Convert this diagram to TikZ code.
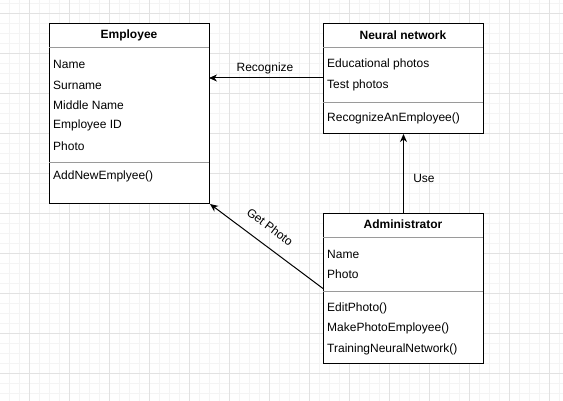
\documentclass[tikz,border=0pt]{standalone}
\usepackage{fontspec}
\setmainfont{Liberation Sans}
\usetikzlibrary{arrows.meta}
\definecolor{gridminor}{HTML}{F4F4F4}
\definecolor{gridmajor}{HTML}{E2E2E2}
\definecolor{sepgray}{HTML}{9A9A9A}
\begin{document}
\begin{tikzpicture}[x=1pt,y=-1pt,
  box/.style={draw, line width=1pt, rectangle, minimum width=160pt, inner sep=0pt, anchor=north west, fill=white},
  ttl/.style={font=\fontsize{12}{14}\selectfont\bfseries, anchor=center, inner sep=0pt},
  attr/.style={font=\fontsize{12}{14}\selectfont, anchor=west, inner sep=0pt},
  sepline/.style={draw=sepgray, line width=0.7pt},
  conn/.style={line width=1pt, -{Stealth[length=8pt,width=7pt,inset=2.5pt]}},
  lab/.style={font=\fontsize{12}{14}\selectfont, inner sep=0pt},
  minorline/.style={draw=gridminor, line width=0.7pt},
  majorline/.style={draw=gridmajor, line width=0.7pt}]
\useasboundingbox (0,0) rectangle (563,401);
\fill[white] (0,0) rectangle (563,401);
% grid
\foreach \x in {-1,9,...,561} \draw[minorline] (\x,0) -- (\x,401);
\foreach \y in {3,13,...,401} \draw[minorline] (0,\y) -- (563,\y);
\foreach \x in {29,69,...,561} \draw[majorline] (\x,0) -- (\x,401);
\foreach \y in {13,53,...,401} \draw[majorline] (0,\y) -- (563,\y);

% Employee
\node[box, minimum height=180pt] (emp) at (49,23) {};
\draw[sepline] (49,47) -- (209,47);
\draw[sepline] (49,162) -- (209,162);
\node[ttl] (empT) at (129,35) {Employee};
\node[attr] (empA1) at (53,64) {Name};
\node[attr] (empA2) at (53,85) {Surname};
\node[attr] (empA3) at (53,105) {Middle Name};
\node[attr] (empA4) at (53,125) {Employee ID};
\node[attr] (empA5) at (53,146) {Photo};
\node[attr] (empM1) at (53,176) {AddNewEmplyee()};

% Neural network
\node[box, minimum height=110pt] (nn) at (323,23) {};
\draw[sepline] (323,47) -- (483,47);
\draw[sepline] (323,102) -- (483,102);
\node[ttl] (nnT) at (403,35) {Neural network};
\node[attr] (nnA1) at (327,64) {Educational photos};
\node[attr] (nnA2) at (327,85) {Test photos};
\node[attr] (nnM1) at (327,118) {RecognizeAnEmployee()};

% Administrator
\node[box, minimum height=150pt] (adm) at (323,213) {};
\draw[sepline] (323,237) -- (483,237);
\draw[sepline] (323,291) -- (483,291);
\node[ttl] (admT) at (403,224) {Administrator};
\node[attr] (admA1) at (327,254) {Name};
\node[attr] (admA2) at (327,274) {Photo};
\node[attr] (admM1) at (327,308) {EditPhoto()};
\node[attr] (admM2) at (327,328) {MakePhotoEmployee()};
\node[attr] (admM3) at (327,349) {TrainingNeuralNetwork()};

% connectors
\coordinate (recS) at (323,78);
\coordinate (recE) at (209,78);
\draw[conn] (recS) -- (recE);
\node[lab] (recL) at (265,68) {Recognize};

\draw[conn] (adm.north) -- (nn.south);
\node[lab] (useL) at (424,178) {Use};

\draw[conn] (adm.west) -- (emp.south east);
\node[lab, rotate=-37] (getL) at (270,227) {Get Photo};
\end{tikzpicture}
\end{document}
